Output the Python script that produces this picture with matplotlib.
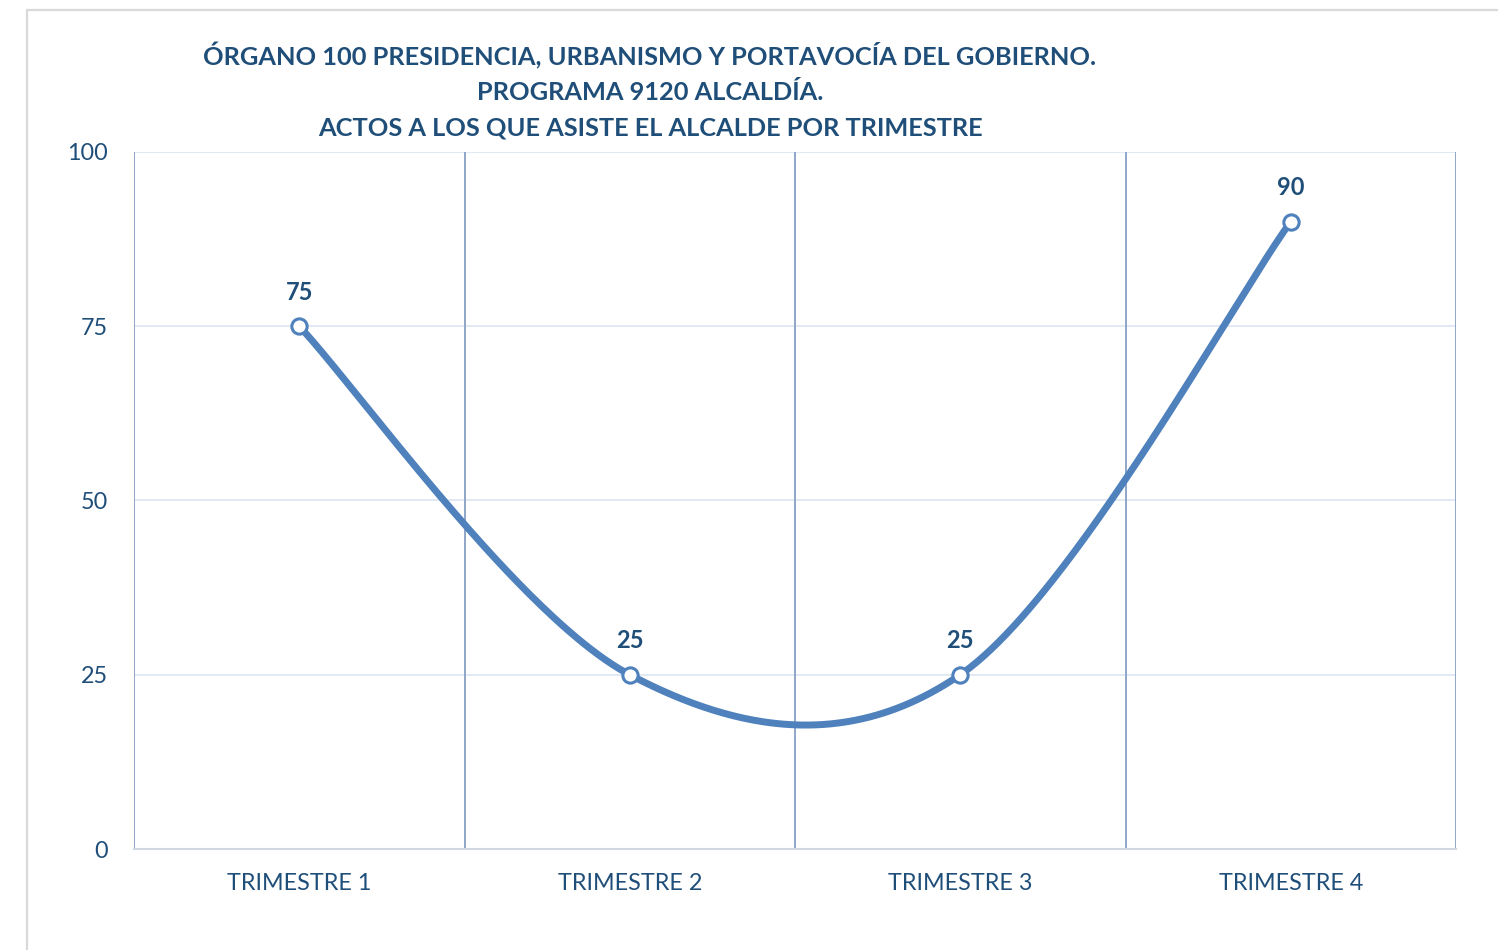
import numpy as np
import matplotlib
matplotlib.use("Agg")
import matplotlib.pyplot as plt
from matplotlib.patches import Rectangle

categories = ["TRIMESTRE 1", "TRIMESTRE 2", "TRIMESTRE 3", "TRIMESTRE 4"]
values = [75, 25, 25, 90]
yticks = [0, 25, 50, 75, 100]
title_lines = ["ÓRGANO 100 PRESIDENCIA, URBANISMO Y PORTAVOCÍA DEL GOBIERNO.",
               "PROGRAMA 9120 ALCALDÍA.",
               "ACTOS A LOS QUE ASISTE EL ALCALDE POR TRIMESTRE"]

plt.rcParams['font.family'] = ['Lato', 'DejaVu Sans']
TXT = "#1F4E79"
LINE = "#4F81BD"

fig = plt.figure(figsize=(14.98, 9.5), dpi=100)
fig.patches.append(Rectangle((27/1498, -0.1), 1.2, (950-10)/950 + 0.1,
                             transform=fig.transFigure, fill=False,
                             edgecolor="#D9D9D9", linewidth=1.6, zorder=0))
ax = fig.add_axes([134/1498, 1-849/950, (1456-134)/1498, (849-152)/950])

# smoothed curve (cubic Bezier, Catmull-Rom style control points)
x = np.arange(len(values), dtype=float)
y = np.array(values, dtype=float)
P = np.column_stack([x, y])
Pext = np.vstack([P[0], P, P[-1]])
t = np.linspace(0, 1, 100)[:, None]
curve = []
for i in range(len(P) - 1):
    p0, p3 = P[i], P[i + 1]
    c1 = p0 + (Pext[i + 2] - Pext[i]) / 6.0
    c2 = p3 - (Pext[i + 3] - Pext[i + 1]) / 6.0
    seg = (1 - t) ** 3 * p0 + 3 * (1 - t) ** 2 * t * c1 + 3 * (1 - t) * t ** 2 * c2 + t ** 3 * p3
    curve.append(seg)
curve = np.vstack(curve)
ax.plot(curve[:, 0], curve[:, 1], color=LINE, linewidth=5.0, solid_capstyle='round', zorder=3)
ax.plot(x, y, linestyle='none', marker='o', markersize=11, markerfacecolor='white',
        markeredgecolor=LINE, markeredgewidth=2.2, zorder=4)

for xi, yi in zip(x, y):
    ax.annotate(f"{int(yi)}", (xi, yi), xytext=(0, 24.5), textcoords='offset points',
                ha='center', va='center', fontsize=17, fontweight='bold', color=TXT)

ax.set_xlim(-0.5, len(values) - 0.5)
ax.set_ylim(0, 100)
ax.set_yticks(yticks)
ax.set_yticklabels([str(v) for v in yticks])
ax.set_xticks(x)
ax.set_xticklabels(categories)
ax.tick_params(axis='both', length=0, colors=TXT, labelsize=16.8)
ax.tick_params(axis='y', pad=19)
ax.tick_params(axis='x', pad=17)

for v in yticks[1:]:
    ax.axhline(v, color="#DCE6F2", linewidth=1.2, zorder=1)
for b in np.arange(-0.5, len(values), 1.0):
    ax.axvline(b, color="#8FA6C8", linewidth=1.4, zorder=2)

for s in ['top', 'right', 'left']:
    ax.spines[s].set_visible(False)
ax.spines['bottom'].set_color("#D0D7E2")
ax.spines['bottom'].set_linewidth(1.5)

ys = [56, 92, 128]
for line, yy in zip(title_lines, ys):
    fig.text(650/1498, 1 - yy/950, line, ha='center', va='center',
             fontsize=18.3, fontweight='bold', color=TXT)

fig.savefig("out.png", dpi=100)
